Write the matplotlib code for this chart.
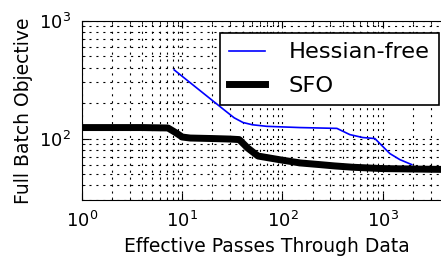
import matplotlib
matplotlib.use('Agg')
from matplotlib import pyplot as plt

plt.rcParams['lines.scale_dashes'] = False

# full batch objective vs effective passes
sfo_passes = [1, 2, 4, 7.2, 8.5, 10, 12, 20, 30, 37, 45, 57, 94, 150, 236, 330, 500, 1000, 4800]
sfo_obj = [124, 124, 124, 123, 113, 103, 101, 100, 99, 98, 83, 71, 66, 62, 60, 58.5, 57, 55.5, 54.5]

hf_passes = [8.3, 26.7, 33, 40.3, 50, 69.9, 149, 349, 470, 633, 835, 1178, 1481, 1950]
hf_obj = [384, 173, 150, 137, 131, 127, 124, 122, 108, 102, 100, 74.5, 66.2, 60]

fig = plt.figure(figsize=(4.41, 2.56), dpi=100, facecolor='w')
ax = fig.add_axes([82/441., 56/256., 369/441., 179/256.])

ax.plot(hf_passes, hf_obj, color='b', lw=1.2, label='Hessian-free')
ax.plot(sfo_passes, sfo_obj, color='k', lw=5, label='SFO')

ax.set_xscale('log')
ax.set_yscale('log')
ax.set_xlim(1, 4800)
ax.set_ylim(30, 1000)

ax.grid(True, which='both', color='k', linestyle=(0, (1.5, 3.5)), linewidth=0.8)
ax.tick_params(which='both', direction='in', top=True, right=True, labelsize=13, pad=8)
ax.tick_params(which='major', length=5)
ax.tick_params(which='minor', length=2.5)

ax.set_xlabel('Effective Passes Through Data', fontsize=13.5)
ax.set_ylabel('Full Batch Objective', fontsize=13.5)

leg = ax.legend(loc='upper right', fontsize=16.2, fancybox=False, framealpha=1,
                edgecolor='k', handlelength=1.6, handletextpad=1.05, borderpad=0.4,
                labelspacing=0.6, borderaxespad=0.55)
leg.get_frame().set_linewidth(1.2)

plt.savefig('out.png', dpi=100, facecolor='w')
